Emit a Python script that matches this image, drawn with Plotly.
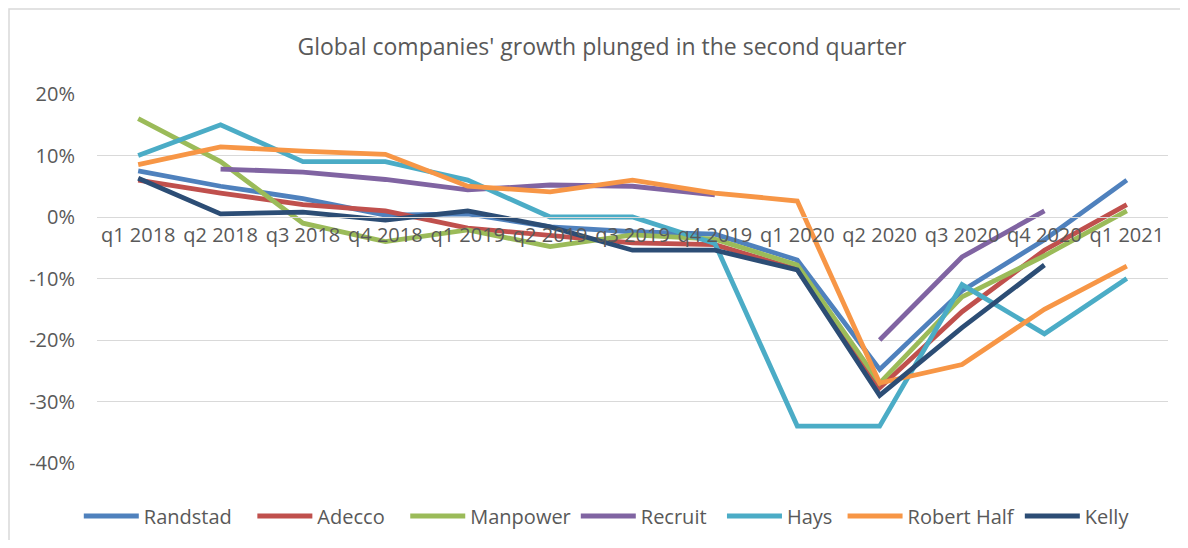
import plotly.graph_objects as go

categories = ["q1 2018", "q2 2018", "q3 2018", "q4 2018", "q1 2019", "q2 2019", "q3 2019",
              "q4 2019", "q1 2020", "q2 2020", "q3 2020", "q4 2020", "q1 2021"]

randstad = [7.5, 5.0, 3.0, 0.3, 0.5, -1.6, -2.4, -2.8, -7.0, -24.8, -12.0, -3.7, 6.0]
adecco = [6.0, 3.9, 2.0, 1.0, -1.8, -3.0, -4.2, -4.5, -8.5, -27.8, -15.4, -5.4, 2.0]
manpower = [16.0, 9.0, -1.0, -4.0, -2.1, -4.8, -2.9, -3.6, -7.8, -27.0, -13.0, -6.3, 1.0]
recruit = [None, 7.8, 7.3, 6.1, 4.4, 5.2, 5.0, 3.6, None, -20.0, -6.5, 1.0, None]
hays = [10.0, 15.0, 9.0, 9.0, 6.0, 0.0, 0.0, -4.3, -34.0, -34.0, -11.0, -19.0, -10.0]
robert_half = [8.5, 11.4, 10.7, 10.2, 5.0, 4.1, 6.0, 3.9, 2.6, -27.0, -24.0, -15.0, -8.0]
kelly = [6.3, 0.5, 0.8, -0.5, 1.0, -1.6, -5.4, -5.4, -8.6, -29.0, -18.0, -7.8, None]

y_tick_values = [-40, -30, -20, -10, 0, 10, 20]
y_tick_labels = ["-40%", "-30%", "-20%", "-10%", "0%", "10%", "20%"]

series = [
    ("Randstad", randstad, "#4F81BD"),
    ("Adecco", adecco, "#C0504D"),
    ("Manpower", manpower, "#9BBB59"),
    ("Recruit", recruit, "#8064A2"),
    ("Hays", hays, "#4BACC6"),
    ("Robert Half", robert_half, "#F79646"),
    ("Kelly", kelly, "#2C4D75"),
]
# extra trailing spacing in legend entries (Excel-like spacing)
legend_pad = {"Randstad": 3, "Adecco": 3, "Manpower": 0, "Recruit": 2, "Hays": 1,
              "Robert Half": 0, "Kelly": 0}

FONT = "Open Sans"
TXT = "#595959"

# page body has an 8px margin; figure is sized to fit inside the window
W, H = 1172, 532
L, T = 89, 86
PLOT_R, PLOT_B = 1160, 455
plot_w = PLOT_R - L
plot_h = PLOT_B - T

fig = go.Figure()
for name, vals, color in series:
    fig.add_trace(go.Scatter(
        x=categories, y=vals, name=name + "\u00a0" * legend_pad[name], mode="lines",
        line=dict(color=color, width=4.8),
        connectgaps=False,
    ))

# chart-area border (only left/top edges visible in the frame)
bx0 = (1 - L) / plot_w
by0 = (PLOT_B - 1) / plot_h
fig.add_shape(type="path", xref="paper", yref="paper",
              path=f"M {bx0},-1 L {bx0},{by0} L 2,{by0}",
              line=dict(color="#D9D9D9", width=1.5), layer="below")

fig.update_layout(
    width=W, height=H,
    paper_bgcolor="white", plot_bgcolor="white",
    margin=dict(l=L, r=W - PLOT_R, t=T, b=H - PLOT_B, autoexpand=False),
    title=dict(text="Global companies' growth plunged in the second quarter",
               x=(602 - 8) / W, xanchor="center", y=1 - 39 / H, yanchor="middle",
               font=dict(family=FONT, size=23, color=TXT)),
    font=dict(family=FONT, color=TXT),
    showlegend=True,
    legend=dict(orientation="h", x=0.476, xanchor="center",
                y=-(508 - PLOT_B) / plot_h, yanchor="middle",
                font=dict(family=FONT, size=20, color=TXT),
                itemwidth=55, bgcolor="rgba(0,0,0,0)"),
    xaxis=dict(type="category", categoryorder="array", categoryarray=categories,
               range=[-0.5, len(categories) - 0.5],
               anchor="free", position=40 / 60,
               showline=True, linecolor="#D9D9D9", linewidth=1,
               showgrid=False, ticks="", tickfont=dict(family=FONT, size=20, color=TXT)),
    yaxis=dict(range=[-40, 20], tickmode="array", tickvals=y_tick_values, ticktext=y_tick_labels,
               showgrid=True, gridcolor="#D9D9D9", gridwidth=1,
               zeroline=False, showline=False, ticks="", ticklabelstandoff=21,
               tickfont=dict(family=FONT, size=20, color=TXT)),
)

fig.write_html("out.html")
